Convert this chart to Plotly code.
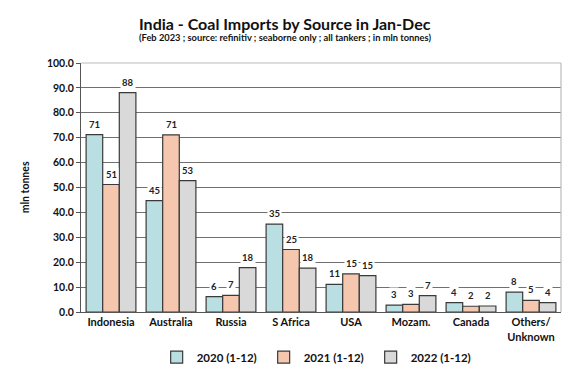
import plotly.graph_objects as go

categories = ["Indonesia", "Australia", "Russia", "S Africa", "USA", "Mozam.", "Canada", "Others/<br>Unknown"]
series_names = ["2020 (1-12)", "2021 (1-12)", "2022 (1-12)"]
v2020 = [71.2, 44.7, 6.2, 35.3, 11.1, 2.8, 3.8, 8.0]
v2021 = [51.2, 71.1, 6.7, 25.1, 15.3, 3.1, 2.3, 4.7]
v2022 = [88.1, 52.8, 17.8, 17.6, 14.6, 6.6, 2.4, 3.8]
colors = ["#b9dfe2", "#f4c7ae", "#d9d9d9"]
yticks = [0, 10, 20, 30, 40, 50, 60, 70, 80, 90, 100]

FONT = "Lato"
series = [v2020, v2021, v2022]

fig = go.Figure()
for name, vals, col in zip(series_names, series, colors):
    fig.add_trace(go.Bar(
        x=categories, y=vals, name=f"<b>{name}</b>",
        marker=dict(color=col, line=dict(color="#3a3a3a", width=1.2)),
        hoverinfo="skip",
    ))

bar_px = 480 / 8 * (1 - 0.17) / 3
annotations = []
for i, vals in enumerate(series):
    for c, v in zip(categories, vals):
        annotations.append(dict(
            x=c, y=v, xref="x", yref="y", text=f"<b>{round(v):d}</b>",
            showarrow=False, yanchor="bottom", xshift=(i - 1) * bar_px, yshift=3,
            bgcolor="white", borderpad=1,
            font=dict(family=FONT, size=9.5, color="#222"),
        ))

annotations.append(dict(
    x=0.425, y=1.16, xref="paper", yref="paper", xanchor="center", yanchor="middle",
    text="<b>India - Coal Imports by Source in Jan-Dec</b>", showarrow=False,
    font=dict(family=FONT, size=16, color="#111"),
))
annotations.append(dict(
    x=0.425, y=1.104, xref="paper", yref="paper", xanchor="center", yanchor="middle",
    text="<b>(Feb 2023 ; source: refinitiv ; seaborne only ; all tankers ; in mln tonnes)</b>",
    showarrow=False, font=dict(family=FONT, size=9.3, color="#111"),
))
annotations.append(dict(
    x=-0.117, y=0.5, xref="paper", yref="paper", xanchor="center", yanchor="middle",
    text="<b>mln tonnes</b>", textangle=-90, showarrow=False,
    font=dict(family=FONT, size=10.5, color="#111"),
))

fig.update_layout(
    width=587, height=375,
    margin=dict(l=73, r=34, t=55, b=71, autoexpand=False),
    paper_bgcolor="white", plot_bgcolor="white",
    barmode="group", bargap=0.17, bargroupgap=0,
    legend=dict(
        orientation="h", x=0.492, xanchor="center",
        yref="container", y=0.069, yanchor="middle",
        font=dict(family=FONT, size=11.5, color="#111"),
        traceorder="normal", itemwidth=30,
        entrywidth=62, entrywidthmode="pixels",
    ),
    showlegend=True,
    annotations=annotations,
    font=dict(family=FONT, color="#111"),
)

fig.update_yaxes(
    range=[0, 100], tickvals=yticks, ticktext=[f"<b>{t:.1f}</b>" for t in yticks],
    showgrid=True, gridcolor="#707070", gridwidth=1,
    showline=True, linecolor="#555", linewidth=1.2, mirror=False,
    ticks="outside", ticklen=4, tickcolor="#555",
    tickfont=dict(family=FONT, size=10.5, color="#111"),
    zeroline=False, automargin=False,
)
fig.update_xaxes(
    showline=True, linecolor="#555", linewidth=1.2,
    tickfont=dict(family=FONT, size=11, color="#111"),
    ticktext=[f"<b>{c}</b>" for c in categories], tickvals=categories,
    ticks="", automargin=False,
)
fig.add_shape(type="line", xref="paper", yref="paper", x0=0, x1=1, y0=1, y1=1,
              line=dict(color="#bbbbbb", width=1.2))
fig.add_shape(type="line", xref="paper", yref="paper", x0=1, x1=1, y0=0, y1=1,
              line=dict(color="#bbbbbb", width=1.2))

fig.write_html("out.html")
